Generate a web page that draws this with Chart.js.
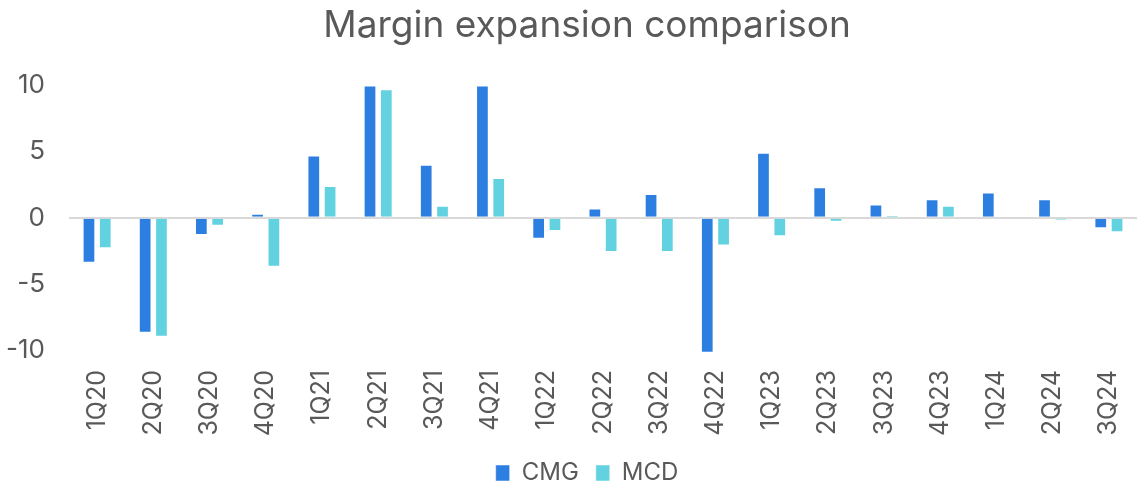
<!DOCTYPE html>
<html>
<head>
<meta charset="utf-8">
<script src="https://cdn.jsdelivr.net/npm/chart.js@4"></script>
<style>
  html, body { margin: 0; padding: 0; background: #fff; }
  #wrap { width: 1137px; height: 484px; position: relative; }
</style>
</head>
<body>
<div id="wrap"><canvas id="chart-margin"></canvas></div>
<script>
/* Margin expansion comparison */
var trimestres = ["1Q20", "2Q20", "3Q20", "4Q20", "1Q21", "2Q21", "3Q21", "4Q21", "1Q22", "2Q22",
  "3Q22", "4Q22", "1Q23", "2Q23", "3Q23", "4Q23", "1Q24", "2Q24", "3Q24"];
var valoresCMG = [-3.4, -8.7, -1.3, 0.3, 4.7, 10.0, 4.0, 10.0, -1.6, 0.7,
  1.8, -10.2, 4.9, 2.3, 1.0, 1.4, 1.9, 1.4, -0.8];
var valoresMCD = [-2.3, -9.0, -0.6, -3.7, 2.4, 9.7, 0.9, 3.0, -1.0, -2.6,
  -2.6, -2.1, -1.4, -0.3, 0.2, 0.9, 0, -0.2, -1.1];
var ticksY = [-10, -5, 0, 5, 10];

var gris = "#595959";
var fuente = "Inter";

var ctx = document.getElementById("chart-margin").getContext("2d");

// el eje Y recorta sus etiquetas a su caja: se abre hasta el borde para que "-10" entre
var ejeIzq = {
  id: "ejeIzq",
  afterLayout: function(chart) {
    chart.scales.y.left = 0;
  }
};

new Chart(ctx, {
  type: "bar",
  data: {
    labels: trimestres,
    datasets: [{
      label: "CMG",
      data: valoresCMG,
      backgroundColor: "#2c7fe1",
      borderColor: "rgba(255,255,255,0.5)",
      borderWidth: 1,
      clip: false,
      barPercentage: 0.78,
      categoryPercentage: 0.58
    }, {
      label: "MCD",
      data: valoresMCD,
      backgroundColor: "#62d2e0",
      borderColor: "rgba(255,255,255,0.5)",
      borderWidth: 1,
      clip: false,
      barPercentage: 0.78,
      categoryPercentage: 0.58
    }]
  },
  plugins: [ejeIzq],
  options: {
    responsive: true,
    maintainAspectRatio: false,
    animation: false,
    layout: {
      padding: { left: 29, right: -8, top: 0, bottom: -11 }
    },
    plugins: {
      title: {
        display: true,
        text: "Margin expansion comparison",
        color: gris,
        font: { size: 37, family: fuente, weight: "normal" },
        padding: { top: 4, bottom: 37 }
      },
      legend: {
        position: "bottom",
        labels: {
          color: gris,
          boxWidth: 14,
          boxHeight: 16,
          padding: 17,
          font: { size: 24, family: fuente }
        }
      },
      tooltip: { enabled: false }
    },
    scales: {
      y: {
        min: -10,
        max: 10,
        afterBuildTicks: function(axis) {
          axis.ticks = ticksY.map(function(v) { return { value: v }; });
        },
        afterFit: function(axis) {
          axis.width = 40;
        },
        border: { display: false },
        grid: {
          drawTicks: false,
          color: function(c) { return c.tick && c.tick.value === 0 ? "#d9d9d9" : "transparent"; },
          lineWidth: 2
        },
        ticks: {
          color: gris,
          padding: 24,
          font: { size: 26, family: fuente }
        }
      },
      x: {
        afterFit: function(axis) {
          axis.height = 94;
          axis.paddingLeft = 0;
          axis.paddingRight = 0;
        },
        border: { display: false },
        grid: { display: false, drawTicks: false },
        ticks: {
          color: gris,
          minRotation: 90,
          maxRotation: 90,
          padding: 20,
          font: { size: 25, family: fuente }
        }
      }
    }
  }
});
</script>
</body>
</html>
